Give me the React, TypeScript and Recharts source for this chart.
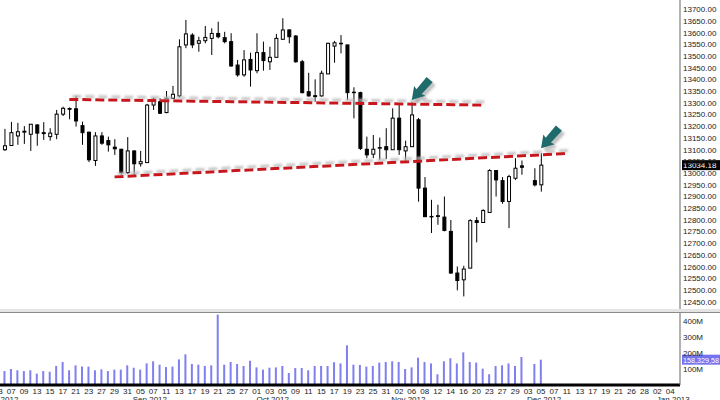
import { Bar, ComposedChart, Line, ReferenceDot, ReferenceLine, XAxis, YAxis } from "recharts";

// trading days Aug 3 2012 .. Jan 7 2013
const dates = [
  "2012-08-03", "2012-08-06", "2012-08-07", "2012-08-08", "2012-08-09", "2012-08-10", "2012-08-13", "2012-08-14",
  "2012-08-15", "2012-08-16", "2012-08-17", "2012-08-20", "2012-08-21", "2012-08-22", "2012-08-23", "2012-08-24",
  "2012-08-27", "2012-08-28", "2012-08-29", "2012-08-30", "2012-08-31",
  "2012-09-04", "2012-09-05", "2012-09-06", "2012-09-07", "2012-09-10", "2012-09-11", "2012-09-12", "2012-09-13",
  "2012-09-14", "2012-09-17", "2012-09-18", "2012-09-19", "2012-09-20", "2012-09-21", "2012-09-24", "2012-09-25",
  "2012-09-26", "2012-09-27", "2012-09-28",
  "2012-10-01", "2012-10-02", "2012-10-03", "2012-10-04", "2012-10-05", "2012-10-08", "2012-10-09", "2012-10-10",
  "2012-10-11", "2012-10-12", "2012-10-15", "2012-10-16", "2012-10-17", "2012-10-18", "2012-10-19", "2012-10-22",
  "2012-10-23", "2012-10-24", "2012-10-25", "2012-10-26", "2012-10-31",
  "2012-11-01", "2012-11-02", "2012-11-05", "2012-11-06", "2012-11-07", "2012-11-08", "2012-11-09", "2012-11-12",
  "2012-11-13", "2012-11-14", "2012-11-15", "2012-11-16", "2012-11-19", "2012-11-20", "2012-11-21", "2012-11-23",
  "2012-11-26", "2012-11-27", "2012-11-28", "2012-11-29", "2012-11-30",
  "2012-12-03", "2012-12-04", "2012-12-05", "2012-12-06", "2012-12-07", "2012-12-10", "2012-12-11", "2012-12-12",
  "2012-12-13", "2012-12-14", "2012-12-17", "2012-12-18", "2012-12-19", "2012-12-20", "2012-12-21", "2012-12-24",
  "2012-12-26", "2012-12-27", "2012-12-28", "2012-12-31",
  "2013-01-02", "2013-01-03", "2013-01-04", "2013-01-07",
];

const opens = [
  null, 13100, 13118, 13159, 13175, 13166, 13206, 13173, 13156, 13166, 13252, 13276, 13275, 13203, 13175, 13054,
  13159, 13139, 13111, 13102, 13002,
  13095, 13040, 13045, 13291, 13305, 13259, 13320, 13330, 13548, 13590, 13555, 13566, 13576, 13597, 13579, 13562,
  13462, 13420, 13486,
  13438, 13515, 13476, 13495, 13572, 13612, 13586, 13476, 13348, 13331, 13330, 13424, 13543, 13555, 13548, 13344,
  13344, 13102, 13081, 13109, 13113,
  13100, 13235, 13095, 13113, 13228, 12936, 12815, 12818, 12812, 12751, 12573, 12544, 12594, 12797, 12789, 12832,
  13011, 12968, 12879, 12978, 13031,
  null, 12968, 12950,
];
const highs = [
  null, 13189, 13219, 13215, 13201, 13210, 13209, 13218, 13192, 13270, 13284, 13281, 13331, 13220, 13177, 13175,
  13175, 13156, 13145, 13104, 13154,
  13096, 13095, 13296, 13324, 13320, 13351, 13373, 13572, 13655, 13598, 13583, 13629, 13619, 13647, 13604, 13598,
  13484, 13526, 13515,
  13598, 13562, 13540, 13595, 13662, 13615, 13590, 13484, 13429, 13401, 13438, 13557, 13565, 13590, 13548, 13367,
  13348, 13156, 13163, 13152, 13192,
  13277, 13296, 13139, 13305, 13236, 12983, 12886, 12865, 12900, 12800, 12601, 12604, 12803, 12812, 12846, 13017,
  13011, 12983, 12993, 13064, 13054,
  null, 13021, 13085,
];
const lows = [
  null, 13095, 13117, 13121, 13125, 13095, 13117, 13142, 13139, 13145, 13244, 13230, 13199, 13121, 13047, 13031,
  13121, 13092, 13078, 12993, 12997,
  12988, 13028, 13044, 13270, 13253, 13256, 13320, 13324, 13534, 13534, 13519, 13555, 13505, 13576, 13555, 13455,
  13412, 13412, 13370,
  13427, 13438, 13441, 13495, 13569, 13555, 13472, 13341, 13327, 13305, 13327, 13424, 13472, 13512, 13313, 13234,
  13099, 13064, 13064, 13057, 13060,
  13100, 13078, 13049, 13113, 12878, 12812, 12744, 12779, 12751, 12570, 12499, 12473, 12594, 12704, 12789, 12832,
  12900, 12869, 12765, 12971, 12993,
  null, 12943, 12921,
];
const closes = [
  null, 13117, 13173, 13177, 13179, 13209, 13171, 13169, 13171, 13252, 13277, 13273, 13223, 13173, 13057, 13159,
  13128, 13121, 13104, 13002, 13095,
  13040, 13049, 13291, 13316, 13256, 13320, 13337, 13540, 13595, 13548, 13566, 13580, 13597, 13583, 13562, 13458,
  13420, 13484, 13441,
  13515, 13481, 13495, 13576, 13612, 13583, 13476, 13344, 13330, 13327, 13427, 13555, 13557, 13553, 13344, 13346,
  13106, 13078, 13102, 13107, 13100,
  13235, 13100, 13113, 13249, 12936, 12814, 12815, 12815, 12755, 12573, 12541, 12590, 12797, 12789, 12840, 13011,
  12971, 12879, 12985, 13021, 13025,
  null, 12950, 13034.18,
];
// volume, millions
const volumes = [
  null, 87, 100, 92, 87, 92, 71, 87, 83, 119, 144, 92, 123, 115, 115, 92, 98, 87, 96, 96, 123,
  108, 96, 135, 148, 127, 112, 115, 160, 192, 131, 127, 119, 123, 440, 127, 144, 131, 119, 152,
  110, 96, 108, 110, 119, 75, 106, 106, 92, 119, 119, 119, 142, 135, 248, 127, 125, 115, 119, 140, 144,
  148, 144, 100, 110, 171, 144, 135, 67, 148, 167, 135, 204, 144, 140, 102, 67, 119, 123, 135, 119, 175,
  null, 131, 158.33,
];

const priceTicks = [
  12450, 12500, 12550, 12600, 12650, 12700, 12750, 12800, 12850, 12900, 12950, 13000, 13050,
  13100, 13150, 13200, 13250, 13300, 13350, 13400, 13450, 13500, 13550, 13600, 13650, 13700,
];
const volumeTicks = [100, 200, 300, 400];

const monthLabels = [
  { date: "2012-08-03", text: "Aug 2012" },
  { date: "2012-09-06", text: "Sep 2012" },
  { date: "2012-10-03", text: "Oct 2012" },
  { date: "2012-11-05", text: "Nov 2012" },
  { date: "2012-12-05", text: "Dec 2012" },
  { date: "2013-01-04", text: "Jan 2013" },
];

// hand-drawn annotations
const upperTrend = [
  { date: "2012-08-20", value: 13315 },
  { date: "2012-11-21", value: 13291 },
];
const lowerTrend = [
  { date: "2012-08-29", value: 12984 },
  { date: "2012-12-11", value: 13084 },
];
const arrowTips = [
  { date: "2012-11-06", value: 13313 },
  { date: "2012-12-05", value: 13106 },
];

const lastClose = 13034.18;
const lastVolume = 158.33;
const lastVolumeText = "158,329,58";

const rows = dates.map((date, i) => {
  const up = upperTrend.find((p) => p.date === date);
  const lo = lowerTrend.find((p) => p.date === date);
  const hasCandle = lows[i] != null && highs[i] != null;
  return {
    date,
    open: opens[i] ?? null,
    high: highs[i] ?? null,
    low: lows[i] ?? null,
    close: closes[i] ?? null,
    range: hasCandle ? [lows[i], highs[i]] : null,
    volume: volumes[i] ?? null,
    upper: up ? up.value : null,
    lower: lo ? lo.value : null,
  };
});

function Candle(props: any) {
  const { x, y, width, height, payload } = props;
  if (!payload || payload.open == null || !Number.isFinite(y)) return <g />;
  const { open, high, low, close } = payload;
  const top = Math.min(y, y + height);
  const bottom = Math.max(y, y + height);
  const span = high - low || 1;
  const toY = (v: number) => top + ((high - v) / span) * (bottom - top);
  const cx = x + width / 2;
  const up = close >= open;
  const bTop = toY(Math.max(open, close));
  const bBot = toY(Math.min(open, close));
  return (
    <g>
      <line x1={cx} x2={cx} y1={top} y2={bottom} stroke="#000" strokeWidth={1} />
      <rect
        x={cx - 1.5}
        y={bTop}
        width={3}
        height={Math.max(bBot - bTop, 0.5)}
        fill={up ? "#fff" : "#000"}
        stroke="#000"
        strokeWidth={1}
      />
    </g>
  );
}

function Arrow({ cx, cy }: { cx: number; cy: number }) {
  const ux = 0.66;
  const uy = -0.75;
  const vx = -uy;
  const vy = ux;
  const pt = (u: number, v: number) => `${cx + u * ux + v * vx},${cy + u * uy + v * vy}`;
  const pts = [pt(0, 0), pt(12, -7.5), pt(11, -3.5), pt(27, -4), pt(27, 4), pt(11, 3.5), pt(12, 7.5)].join(" ");
  return (
    <g>
      <polygon points={pts} fill="#777" opacity={0.45} transform="translate(3,3)" filter="url(#softBlur)" />
      <polygon points={pts} fill="#1f6b6b" />
    </g>
  );
}

function DateTick(props: any) {
  const { x, y, payload } = props;
  const d: string = payload.value;
  const i = dates.indexOf(d);
  const month = monthLabels.find((m) => m.date === d);
  return (
    <g>
      {i % 2 === 0 ? (
        <text x={x} y={y + 9} textAnchor="middle" fontSize={8} fill="#222">
          {d.slice(8)}
        </text>
      ) : null}
      {month ? (
        <text x={x + 3} y={y + 16.5} textAnchor="middle" fontSize={8} fill="#222">
          {month.text}
        </text>
      ) : null}
    </g>
  );
}

function AxisBox({ viewBox, text, bg, size }: any) {
  const { x, y, width } = viewBox;
  return (
    <g>
      <rect x={x + width + 2} y={y - 5} width={38} height={10} fill={bg} />
      <text x={x + width + 3} y={y + 3} fontSize={size} fill="#fff">
        {text}
      </text>
    </g>
  );
}

export default function App() {
  return (
    <div
      style={{
        position: "relative",
        width: 720,
        height: 400,
        overflow: "hidden",
        background: "#fff",
        fontFamily: "'Liberation Sans', Arial, sans-serif",
      }}
    >
      <style>{"body{margin:0}"}</style>
      <div style={{ position: "absolute", left: -5, top: 0 }}>
        <ComposedChart width={725} height={310} data={rows} margin={{ top: 0, right: 0, bottom: 0, left: 0 }}>
          <defs>
            <filter id="trendShadow" filterUnits="userSpaceOnUse" x={0} y={0} width={760} height={400}>
              <feGaussianBlur in="SourceAlpha" stdDeviation={1} result="b" />
              <feOffset in="b" dx={3} dy={-3} result="o" />
              <feFlood floodColor="#bdbdbd" floodOpacity={0.9} />
              <feComposite in2="o" operator="in" result="s" />
              <feMerge>
                <feMergeNode in="s" />
                <feMergeNode in="SourceGraphic" />
              </feMerge>
            </filter>
            <filter id="softBlur" filterUnits="userSpaceOnUse" x={0} y={0} width={760} height={400}>
              <feGaussianBlur stdDeviation={1.2} />
            </filter>
          </defs>
          <XAxis dataKey="date" hide />
          <YAxis
            orientation="right"
            width={40}
            domain={[12415, 13740]}
            ticks={priceTicks}
            interval={0}
            allowDataOverflow
            tickFormatter={(v: number) => v.toFixed(2)}
            tick={{ fontSize: 8, fill: "#222" }}
            tickLine={false}
            tickSize={0}
            tickMargin={3}
            axisLine={{ stroke: "#666" }}
          />
          <Bar dataKey="range" barSize={5} shape={Candle} isAnimationActive={false} />
          <Line
            dataKey="upper"
            stroke="#c8161d"
            strokeWidth={3}
            strokeDasharray="9 4"
            dot={false}
            activeDot={false}
            connectNulls
            filter="url(#trendShadow)"
            isAnimationActive={false}
          />
          <Line
            dataKey="lower"
            stroke="#c8161d"
            strokeWidth={3}
            strokeDasharray="9 4"
            dot={false}
            activeDot={false}
            connectNulls
            filter="url(#trendShadow)"
            isAnimationActive={false}
          />
          {arrowTips.map((a) => (
            <ReferenceDot
              key={a.date}
              x={a.date}
              y={a.value}
              r={0}
              shape={(p: any) => <Arrow cx={p.cx} cy={p.cy} />}
            />
          ))}
          <ReferenceLine
            y={lastClose}
            stroke="none"
            label={(p: any) => <AxisBox viewBox={p.viewBox} text={lastClose.toFixed(2)} bg="#000" size={8} />}
          />
        </ComposedChart>
      </div>
      <div style={{ position: "absolute", left: 0, top: 309, width: 720, height: 3, background: "#e4e4e4" }} />
      <div style={{ position: "absolute", left: 0, top: 312, width: 720, height: 1, background: "#8a8a8a" }} />
      <div style={{ position: "absolute", left: -5, top: 313 }}>
        <ComposedChart width={725} height={87} data={rows} margin={{ top: 0, right: 0, bottom: 0, left: 0 }}>
          <XAxis
            dataKey="date"
            interval={0}
            height={15}
            tickLine={false}
            tickSize={0}
            tickMargin={0}
            axisLine={{ stroke: "#000", strokeWidth: 3 }}
            tick={(p: any) => <DateTick {...p} />}
          />
          <YAxis
            orientation="right"
            width={40}
            domain={[0, 450]}
            ticks={volumeTicks}
            interval={0}
            allowDataOverflow
            tickFormatter={(v: number) => `${v}M`}
            tick={{ fontSize: 8, fill: "#222" }}
            tickLine={false}
            tickSize={0}
            tickMargin={3}
            axisLine={{ stroke: "#666" }}
          />
          <Bar dataKey="volume" barSize={2} fill="#7f7ff0" isAnimationActive={false} />
          <ReferenceLine
            y={lastVolume}
            stroke="none"
            label={(p: any) => <AxisBox viewBox={p.viewBox} text={lastVolumeText} bg="#7373ee" size={7.2} />}
          />
        </ComposedChart>
      </div>
    </div>
  );
}
